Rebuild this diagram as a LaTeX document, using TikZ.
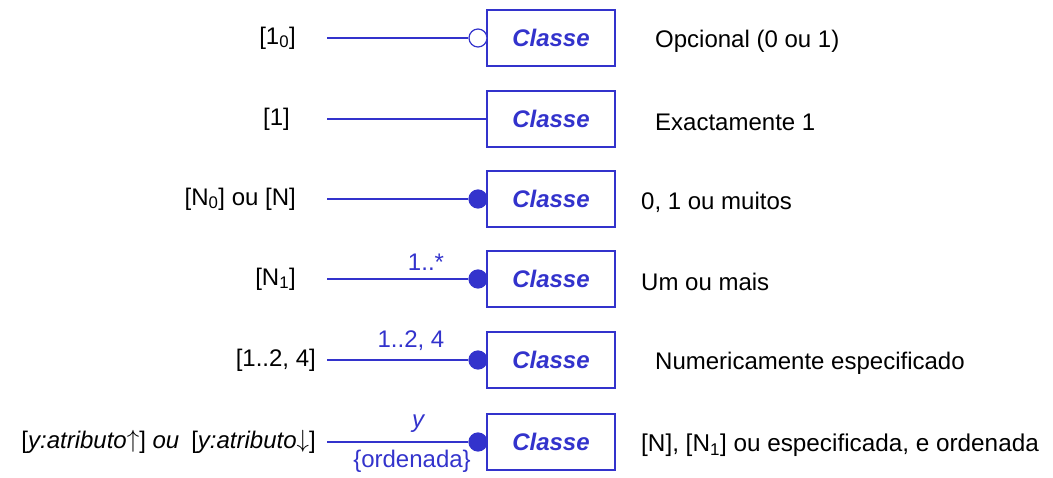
\documentclass[tikz,border=0pt]{standalone}
\usepackage{fontspec}
\setmainfont{Liberation Sans}
\definecolor{umlblue}{HTML}{3333CC}
\newcommand{\thinup}{\raisebox{0.5pt}{\fontsize{24}{28}\selectfont$\uparrow$}}
\newcommand{\thindown}{\raisebox{0.5pt}{\fontsize{24}{28}\selectfont$\downarrow$}}
\begin{document}
\begin{tikzpicture}[x=1pt,y=-1pt,
  every node/.style={font=\fontsize{24}{28}\selectfont},
  classbox/.style={draw=umlblue,line width=1.4pt,minimum width=128pt,minimum height=56pt,
    text=umlblue,font=\fontsize{24}{28}\selectfont\bfseries\itshape},
  link/.style={draw=umlblue,line width=1.2pt},
  dotfull/.style={circle,fill=umlblue,draw=umlblue,line width=1.2pt,minimum size=18pt,inner sep=0pt},
  dotopen/.style={circle,fill=white,draw=umlblue,line width=1.2pt,minimum size=18pt,inner sep=0pt},
  lefttxt/.style={anchor=east,inner sep=0pt,text=black},
  righttxt/.style={anchor=west,inner sep=0pt,text=black},
  multtxt/.style={inner sep=0pt,text=umlblue}]
\useasboundingbox (0,0) rectangle (1053,478);

% row 1
\node[classbox] (b1) at (551,38) {Classe};
\node[dotopen] (c1) at (478,38) {};
\coordinate (s1) at (327,38);
\draw[link] (s1) -- (c1);
\node[lefttxt] (l1) at (296,38) {[1\textsubscript{0}]};
\node[righttxt] (r1) at (655,41) {Opcional (0 ou 1)};

% row 2
\node[classbox] (b2) at (551,119) {Classe};
\coordinate (s2) at (327,119);
\draw[link] (s2) -- (b2.west);
\node[lefttxt] (l2) at (290,119) {[1]};
\node[righttxt] (r2) at (655,122) {Exactamente 1};

% row 3
\node[classbox] (b3) at (551,199) {Classe};
\node[dotfull] (c3) at (478,199) {};
\coordinate (s3) at (327,199);
\draw[link] (s3) -- (c3);
\node[lefttxt] (l3) at (296,199) {[N\textsubscript{0}] ou [N]};
\node[righttxt] (r3) at (641,202) {0, 1 ou muitos};

% row 4
\node[classbox] (b4) at (551,279) {Classe};
\node[dotfull] (c4) at (478,279) {};
\coordinate (s4) at (327,279);
\draw[link] (s4) -- (c4);
\node[lefttxt] (l4) at (296,279) {[N\textsubscript{1}]};
\node[righttxt] (r4) at (641,282) {Um ou mais};
\node[multtxt] (m4) at (426,262) {1..*};

% row 5
\node[classbox] (b5) at (551,360) {Classe};
\node[dotfull] (c5) at (478,360) {};
\coordinate (s5) at (327,360);
\draw[link] (s5) -- (c5);
\node[lefttxt] (l5) at (316,360) {[1..2, 4]};
\node[righttxt] (r5) at (655,363) {Numericamente especificado};
\node[multtxt] (m5) at (411,341) {1..2, 4};

% row 6
\node[classbox] (b6) at (551,442) {Classe};
\node[dotfull] (c6) at (478,442) {};
\coordinate (s6) at (327,442);
\draw[link] (s6) -- (c6);
\node[lefttxt] (l6) at (316,442) {[\textit{y:atributo}\thinup] \textit{ou}\enspace[\textit{y:atributo}\thindown]};
\node[righttxt] (r6) at (641,445) {\fontsize{24.3}{28}\selectfont [N], [N\textsubscript{1}] ou especificada, e ordenada};
\node[multtxt,font=\fontsize{24}{28}\selectfont\itshape] (m6) at (418,424) {y};
\node[multtxt] (o6) at (412,461) {\{ordenada\}};
\end{tikzpicture}
\end{document}
